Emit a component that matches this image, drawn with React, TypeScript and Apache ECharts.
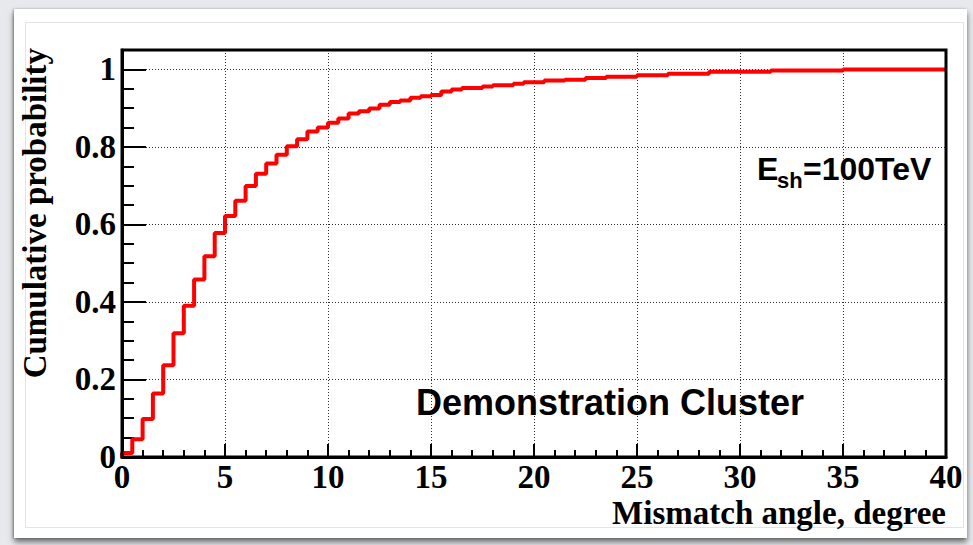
import { useEffect, useRef } from "react";
import * as echarts from "echarts";

// Histogram binning of the mismatch angle (degrees)
const BIN_WIDTH = 0.5;
const X_MIN = 0;
const X_MAX = 40;

// Cumulative probability per 0.5-degree bin, 0 .. 40 degrees
const cumulative = [
  0.01, 0.046, 0.098, 0.164, 0.237, 0.319, 0.39, 0.458, 0.518, 0.578,
  0.622, 0.661, 0.699, 0.731, 0.757, 0.78, 0.802, 0.82, 0.84, 0.85,
  0.862, 0.873, 0.886, 0.892, 0.899, 0.909, 0.916, 0.92, 0.927, 0.931,
  0.934, 0.943, 0.948, 0.952, 0.952, 0.956, 0.959, 0.959, 0.963, 0.967,
  0.967, 0.971, 0.971, 0.973, 0.973, 0.978, 0.978, 0.981, 0.981, 0.981,
  0.985, 0.985, 0.985, 0.989, 0.989, 0.989, 0.989, 0.994, 0.994, 0.994,
  0.994, 0.994, 0.994, 0.997, 0.997, 0.997, 0.997, 0.997, 0.997, 0.997,
  1.0, 1.0, 1.0, 1.0, 1.0, 1.0, 1.0, 1.0, 1.0, 1.0,
];

const X_TITLE = "Mismatch angle, degree";
const Y_TITLE = "Cumulative probability";
const LABEL_TEXT = "Demonstration Cluster";
const ENERGY_MAIN = "E";
const ENERGY_SUB = "sh";
const ENERGY_REST = "=100TeV";

const SERIF = "'Liberation Serif', 'Times New Roman', serif";
const SANS = "'Liberation Sans', Arial, Helvetica, sans-serif";

// Histogram outline: start from the baseline, then one point per bin's left edge,
// closing at the upper edge of the last bin.
function histogramOutline(values: number[]): [number, number][] {
  const pts: [number, number][] = [[X_MIN, 0]];
  values.forEach((v, i) => pts.push([X_MIN + i * BIN_WIDTH, v]));
  pts.push([X_MIN + values.length * BIN_WIDTH, values[values.length - 1]]);
  return pts;
}

const GRID = { left: 122, top: 50, right: 27, bottom: 88 };
const W = 973;
const H = 545;

export default function App() {
  const ref = useRef<HTMLDivElement>(null);

  useEffect(() => {
    if (!ref.current) return;
    const chart = echarts.init(ref.current, null, { renderer: "svg" });
    const plotW = W - GRID.left - GRID.right;
    const plotH = H - GRID.top - GRID.bottom;

    chart.setOption({
      animation: false,
      grid: { ...GRID, containLabel: false },
      xAxis: {
        type: "value",
        min: X_MIN,
        max: X_MAX,
        interval: 5,
        axisLine: { show: true, lineStyle: { color: "#000", width: 3 } },
        axisTick: { show: true, inside: true, length: 13, lineStyle: { color: "#000", width: 2 } },
        minorTick: { show: true, splitNumber: 5, length: 7, lineStyle: { color: "#000", width: 2 } },
        axisLabel: {
          margin: 3,
          color: "#000",
          fontFamily: SERIF,
          fontWeight: "bold",
          fontSize: 33,
        },
        splitLine: { show: true, lineStyle: { color: "#2e2e2e", width: 1, type: [1, 2] } },
      },
      yAxis: [
        {
          type: "value",
          min: 0,
          max: 1.05,
          interval: 0.2,
          axisLine: { show: true, lineStyle: { color: "#000", width: 3 } },
          axisTick: { show: true, inside: true, length: 24, lineStyle: { color: "#000", width: 2 } },
          axisLabel: {
            margin: 6,
            color: "#000",
            fontFamily: SERIF,
            fontWeight: "bold",
            fontSize: 33,
            formatter: (v: number) => {
              const k = v / 0.2;
              return Math.abs(k - Math.round(k)) < 1e-6 ? String(Math.round(v * 10) / 10) : "";
            },
          },
          splitLine: { show: true, lineStyle: { color: "#2e2e2e", width: 1, type: [1, 2] } },
        },
        {
          // minor ticks every 0.05
          type: "value",
          position: "left",
          min: 0,
          max: 1.05,
          interval: 0.05,
          axisLine: { show: false },
          axisTick: { show: true, inside: true, length: 12, lineStyle: { color: "#000", width: 2 } },
          axisLabel: { show: false },
          splitLine: { show: false },
        },
      ],
      series: [
        {
          type: "line",
          yAxisIndex: 0,
          step: "end",
          data: histogramOutline(cumulative),
          showSymbol: false,
          symbol: "none",
          lineStyle: { color: "#ff0000", width: 4 },
          z: 5,
        },
      ],
      graphic: [
        {
          type: "rect",
          z: 100,
          shape: { x: GRID.left, y: GRID.top, width: plotW, height: plotH },
          style: { fill: "none", stroke: "#000", lineWidth: 3 },
        },
        {
          type: "text",
          z: 100,
          x: 946,
          y: 513,
          style: {
            text: X_TITLE,
            align: "right",
            verticalAlign: "middle",
            fill: "#000",
            font: `bold 33px ${SERIF}`,
          },
        },
        {
          type: "text",
          z: 100,
          x: 35,
          y: 48,
          rotation: Math.PI / 2,
          style: {
            text: Y_TITLE,
            align: "right",
            verticalAlign: "middle",
            fill: "#000",
            font: `bold 33px ${SERIF}`,
          },
        },
        {
          type: "text",
          z: 100,
          x: 416,
          y: 402,
          style: {
            text: LABEL_TEXT,
            align: "left",
            verticalAlign: "middle",
            fill: "#000",
            font: `bold 36px ${SANS}`,
          },
        },
        {
          type: "text",
          z: 100,
          x: 757,
          y: 169,
          style: {
            text: ENERGY_MAIN,
            align: "left",
            verticalAlign: "middle",
            fill: "#000",
            font: `bold 32px ${SANS}`,
          },
        },
        {
          type: "text",
          z: 100,
          x: 777,
          y: 180,
          style: {
            text: ENERGY_SUB,
            align: "left",
            verticalAlign: "middle",
            fill: "#000",
            font: `bold 22px ${SANS}`,
          },
        },
        {
          type: "text",
          z: 100,
          x: 803,
          y: 169,
          style: {
            text: ENERGY_REST,
            align: "left",
            verticalAlign: "middle",
            fill: "#000",
            font: `bold 32px ${SANS}`,
          },
        },
      ],
    });

    return () => chart.dispose();
  }, []);

  return (
    <div
      style={{
        position: "fixed",
        left: 0,
        top: 0,
        width: W,
        height: H,
        overflow: "hidden",
        background: "#e7e9ec",
      }}
    >
      <div
        style={{
          position: "absolute",
          left: 14,
          top: 9,
          width: 953,
          height: 529,
          background: "#ffffff",
          boxShadow: "0 4px 6px rgba(0,0,0,0.55), -1px 0 2px rgba(0,0,0,0.25)",
        }}
      />
      <div
        style={{
          position: "absolute",
          left: 25,
          top: 22,
          width: 937,
          height: 504,
          border: "1px solid #e4e4e4",
        }}
      />
      <div ref={ref} style={{ position: "absolute", left: 0, top: 0, width: W, height: H }} />
    </div>
  );
}
